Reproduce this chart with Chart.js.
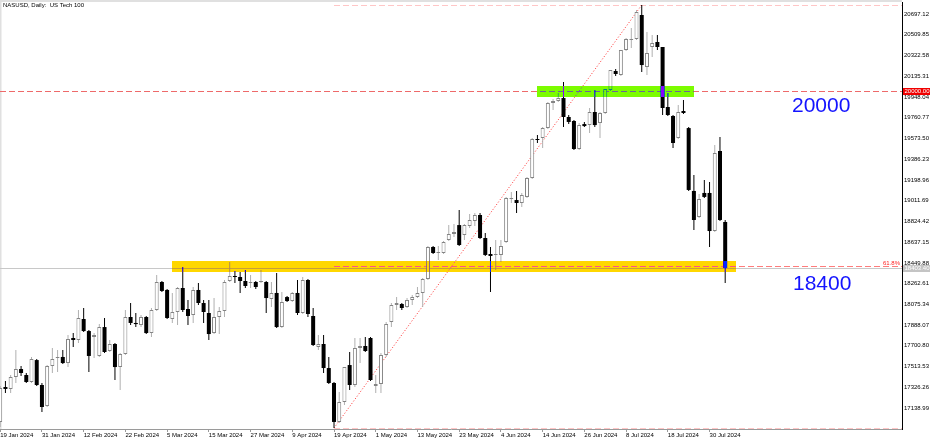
<!DOCTYPE html>
<html><head><meta charset="utf-8">
<script src="https://cdn.jsdelivr.net/npm/chart.js@4.4.1/dist/chart.umd.min.js"></script>
<style>html,body{margin:0;padding:0;background:#fff;overflow:hidden}canvas{display:block}</style>
</head><body>
<canvas id="c" width="936" height="442"></canvas>
<script>
const FONT = '"Liberation Sans", Arial, sans-serif';

const dateLabels = ['19 Jan 2024','31 Jan 2024','12 Feb 2024','22 Feb 2024','5 Mar 2024','15 Mar 2024','27 Mar 2024','9 Apr 2024','19 Apr 2024','1 May 2024','13 May 2024','23 May 2024','4 Jun 2024','14 Jun 2024','26 Jun 2024','8 Jul 2024','18 Jul 2024','30 Jul 2024'];
const dateTickIndex = [0,8,16,24,32,40,48,56,64,72,80,88,96,104,112,120,128,136];

const yTicks = [17138.99,17326.26,17513.53,17700.80,17888.07,18075.34,18262.61,18449.88,18637.15,18824.42,19011.69,19198.96,19386.23,19573.50,19760.77,19948.04,20135.31,20322.58,20509.85,20697.12];

const openP = [17013,17329,17311,17419,17491,17437,17374,17572,17347,17157,17518,17591,17600,17545,17771,17753,17943,17834,17780,17609,
17870,17654,17717,17509,17627,17961,17907,17888,17961,17816,18024,18277,18205,17943,18006,18223,18033,17979,18205,18087,
17997,17816,17961,18015,18286,18331,18322,18286,18268,18277,18277,18277,18123,18178,17870,18141,18105,18178,17997,18295,
17970,17690,17717,17500,17365,17013,17193,17527,17347,17681,17699,17771,17338,17356,17618,17916,18069,18078,18051,18114,
18141,18178,18304,18593,18539,18539,18656,18710,18791,18701,18782,18828,18882,18674,18530,18521,18521,18638,19026,19017,
18990,19045,19216,19568,19577,19667,19893,19911,19938,19767,19731,19478,19703,19694,19812,19712,19803,20010,20182,20146,
20372,20462,20471,20688,20218,20399,20444,20399,19857,19776,19577,19821,19667,19099,18864,19081,19081,18737,19460,18819];

const highP = [17338,17383,17437,17663,17518,17455,17600,17581,17365,17527,17681,17663,17663,17798,17816,18024,18042,17843,17816,17897,
17952,17753,17726,17636,18024,18087,17997,17979,17970,18042,18340,18286,18214,18178,18232,18412,18114,18232,18268,18114,
18114,18132,18051,18295,18457,18376,18367,18385,18340,18286,18385,18286,18277,18358,18187,18151,18187,18295,18322,18304,
18042,17798,17798,17600,17374,17284,17509,17645,17771,17771,17780,17780,17437,17636,17916,18087,18141,18087,18132,18160,
18232,18313,18602,18602,18602,18647,18791,18800,18927,18800,18891,18900,18900,18719,18593,18656,18656,19045,19090,19099,
19081,19225,19577,19604,19676,19902,19929,19983,20083,19785,19740,19712,19722,19848,20010,19812,20019,20191,20200,20372,
20480,20570,20733,20778,20534,20507,20507,20399,19983,19785,19875,19920,19676,19243,19072,19198,19180,19514,19586,18837];

const lowP = [16967,17275,17275,17365,17428,17365,17365,17338,17103,17148,17455,17464,17536,17509,17690,17726,17825,17464,17591,17600,
17636,17645,17392,17302,17618,17888,17870,17870,17807,17780,18015,18187,17943,17907,17888,18006,17888,17907,18069,17907,
17753,17807,17807,17961,18277,18268,18178,18223,18223,18214,18268,17997,18051,17861,17861,18096,18096,17979,17988,17961,
17699,17663,17455,17356,16958,17004,17166,17302,17329,17545,17645,17383,17275,17275,17600,17870,18024,18024,18042,18069,
18132,18051,18295,18530,18475,18530,18647,18683,18602,18656,18764,18782,18665,18512,18187,18385,18457,18629,18990,18900,
18954,19035,19207,19532,19487,19658,19830,19902,19676,19703,19469,19469,19676,19622,19676,19577,19794,20001,20137,20137,
20363,20390,20462,20173,20146,20308,20372,19785,19776,19487,19568,19794,19099,18746,18855,19035,18593,18728,18828,18268];

const closeP = [17320,17311,17419,17491,17455,17374,17581,17347,17148,17518,17581,17600,17545,17762,17753,17952,17834,17609,17798,17870,
17645,17717,17509,17627,17961,17907,17897,17961,17816,18024,18277,18196,17952,18006,18223,18024,17970,18205,18087,18006,
17807,17961,18015,18277,18331,18322,18286,18241,18277,18232,18286,18132,18178,17870,18096,18105,18178,17997,18295,17988,
17708,17717,17500,17365,17013,17193,17509,17347,17681,17699,17654,17392,17356,17618,17897,18069,18087,18042,18114,18141,
18178,18304,18593,18539,18548,18638,18710,18728,18611,18791,18837,18882,18674,18521,18512,18530,18602,19035,19035,18990,
19063,19216,19568,19559,19667,19893,19911,19938,19767,19722,19478,19694,19685,19812,19694,19803,20019,20191,20155,20372,
20471,20471,20715,20236,20345,20435,20399,19848,19785,19532,19812,19803,19108,18837,19026,19045,18737,19442,18837,18403];

const level20000 = 20000;
const bidPrice = 18403.40;
const yellowZoneBars = [33, 141];
const yellowZonePrices = [18367, 18466];
const greenZoneBars = [103, 133];
const greenZonePrices = [19947, 20046];
const fibBars = [64, 123];
const fibPrices = [16958, 20778];
const fibLevels = [0, 0.618, 1];

const idx = openP.map((_, i) => i);
const bull = idx.filter(i => closeP[i] >= openP[i]);
const bear = idx.filter(i => closeP[i] < openP[i]);
const wick = l => l.map(i => ({x: i, y: [lowP[i], highP[i]]}));
const body = l => l.map(i => ({x: i, y: [Math.min(openP[i], closeP[i]), Math.max(openP[i], closeP[i])]}));

const invert = hex => '#' + [1,3,5].map(k => (255 - parseInt(hex.substr(k,2),16)).toString(16).padStart(2,'0')).join('');

const overlay = {
  id: 'overlay',
  beforeDraw(chart) {
    const ctx = chart.ctx, ca = chart.chartArea;
    ctx.save();
    ctx.fillStyle = '#ffffff';
    ctx.fillRect(0, 0, chart.width, chart.height);
    ctx.fillStyle = '#e0e0e0';
    ctx.fillRect(0, 0, ca.right, 2);
    ctx.fillRect(0, 0, 1.5, ca.bottom);
    ctx.restore();
  },
  beforeDatasetsDraw(chart) {
    const ctx = chart.ctx, ca = chart.chartArea, xs = chart.scales.x, ys = chart.scales.y;
    const py = v => Math.round(ys.getPixelForValue(v)) + 0.5;
    ctx.save();
    ctx.beginPath(); ctx.rect(ca.left, 0, ca.right - ca.left, ca.bottom); ctx.clip();
    ctx.lineWidth = 1;
    ctx.strokeStyle = '#c8c8c8';
    ctx.beginPath(); ctx.moveTo(ca.left, py(bidPrice)); ctx.lineTo(ca.right, py(bidPrice)); ctx.stroke();
    ctx.setLineDash([6, 3]);
    ctx.strokeStyle = '#ee6a6a';
    ctx.beginPath(); ctx.moveTo(ca.left, py(level20000)); ctx.lineTo(ca.right, py(level20000)); ctx.stroke();
    const fx = xs.getPixelForValue(fibBars[0]);
    fibLevels.forEach(l => {
      const v = fibPrices[1] - l * (fibPrices[1] - fibPrices[0]);
      ctx.strokeStyle = (l === 0 || l === 1) ? '#ffc6c6' : '#ff7c7c';
      ctx.beginPath(); ctx.moveTo(fx, py(v)); ctx.lineTo(ca.right, py(v)); ctx.stroke();
    });
    ctx.setLineDash([1, 2]);
    ctx.strokeStyle = '#ff3030';
    ctx.beginPath();
    ctx.moveTo(xs.getPixelForValue(fibBars[0]), ys.getPixelForValue(fibPrices[0]));
    ctx.lineTo(xs.getPixelForValue(fibBars[1]), ys.getPixelForValue(fibPrices[1]));
    ctx.stroke();
    ctx.restore();
  },
  afterDatasetsDraw(chart) {
    const ctx = chart.ctx, ca = chart.chartArea, xs = chart.scales.x, ys = chart.scales.y;
    ctx.save();
    ctx.globalCompositeOperation = 'difference';
    const zone = (bars, prices, color) => {
      const x0 = Math.round(xs.getPixelForValue(bars[0])), x1 = Math.round(xs.getPixelForValue(bars[1]));
      const y0 = Math.round(ys.getPixelForValue(prices[1])), y1 = Math.round(ys.getPixelForValue(prices[0]));
      ctx.fillStyle = invert(color);
      ctx.fillRect(x0, y0, x1 - x0, y1 - y0);
    };
    zone(yellowZoneBars, yellowZonePrices, '#ffd700');
    zone(greenZoneBars, greenZonePrices, '#7cfc00');
    ctx.globalCompositeOperation = 'source-over';
    ctx.fillStyle = '#1414ff';
    ctx.font = '21px ' + FONT;
    ctx.textBaseline = 'middle';
    ctx.textAlign = 'left';
    ctx.fillText('20000', ca.right - 110, ys.getPixelForValue(level20000) + 15);
    ctx.fillText('18400', ca.right - 109, ys.getPixelForValue(bidPrice) + 16);
    const fib618 = fibPrices[1] - 0.618 * (fibPrices[1] - fibPrices[0]);
    ctx.font = '6px ' + FONT;
    ctx.fillStyle = '#ff2020';
    ctx.textAlign = 'right';
    ctx.fillText('61.8%', ca.right - 2, ys.getPixelForValue(fib618) - 3.5);
    ctx.fillStyle = '#000';
    ctx.textAlign = 'left';
    ctx.fillText('NASUSD, Daily:  US Tech 100', 3, 5.5);
    ctx.restore();
  },
  afterDraw(chart) {
    const ctx = chart.ctx, ca = chart.chartArea, ys = chart.scales.y;
    ctx.save();
    ctx.font = '6px ' + FONT;
    ctx.textBaseline = 'middle';
    ctx.textAlign = 'left';
    const box = (v, bg, txt) => {
      const y = ys.getPixelForValue(v);
      ctx.fillStyle = bg;
      ctx.fillRect(ca.right + 1, Math.round(y) - 3, 27, 7);
      ctx.fillStyle = '#ffffff';
      ctx.fillText(txt, ca.right + 2.5, y + 0.5);
    };
    box(level20000, '#f00000', level20000.toFixed(2));
    box(bidPrice, '#c4c4c4', bidPrice.toFixed(2));
    ctx.restore();
  }
};

const common = {grouped: false, inflateAmount: 0, borderSkipped: false, minBarLength: 1};

new Chart(document.getElementById('c'), {
  type: 'bar',
  data: {
    datasets: [
      Object.assign({data: wick(bull), backgroundColor: '#b0b0b0', borderWidth: 0, barThickness: 1, order: 3}, common),
      Object.assign({data: wick(bear), backgroundColor: '#000000', borderWidth: 0, barThickness: 1, order: 3}, common),
      Object.assign({data: body(bull), backgroundColor: '#ffffff', borderColor: '#848484', borderWidth: 1, barThickness: 4, order: 1}, common),
      Object.assign({data: body(bear), backgroundColor: '#000000', borderColor: '#000000', borderWidth: 0, barThickness: 4, order: 1}, common)
    ]
  },
  options: {
    responsive: false,
    animation: false,
    devicePixelRatio: 1,
    layout: {autoPadding: false, padding: {left: 0, right: 0, top: 2, bottom: 0}},
    plugins: {legend: {display: false}, tooltip: {enabled: false}},
    scales: {
      x: {
        type: 'linear', min: -0.04, max: 172.9, offset: false, position: 'bottom',
        afterBuildTicks: s => { s.ticks = dateTickIndex.map(v => ({value: v})); },
        afterFit: s => { s.height = 13; s.paddingLeft = 0; s.paddingRight = 0; },
        ticks: {autoSkip: false, maxRotation: 0, minRotation: 0, align: 'start', padding: 0,
          font: {size: 6, family: FONT}, color: '#000',
          callback: (v, i) => dateLabels[i]},
        grid: {display: true, drawOnChartArea: false, drawTicks: true, tickLength: 3, color: '#999', offset: false},
        border: {display: true, color: '#9a9a9a'}
      },
      y: {
        type: 'linear', position: 'right', min: 16949.5, max: 20805.3,
        afterBuildTicks: s => { s.ticks = yTicks.map(v => ({value: v})); },
        afterFit: s => { s.width = 34; s.paddingTop = 0; s.paddingBottom = 0; },
        ticks: {autoSkip: false, padding: 2, font: {size: 6, family: FONT}, color: '#000',
          callback: v => v.toFixed(2)},
        grid: {display: false, drawTicks: false},
        border: {display: true, color: '#000', width: 1}
      }
    }
  },
  plugins: [overlay]
});
</script>
</body></html>
